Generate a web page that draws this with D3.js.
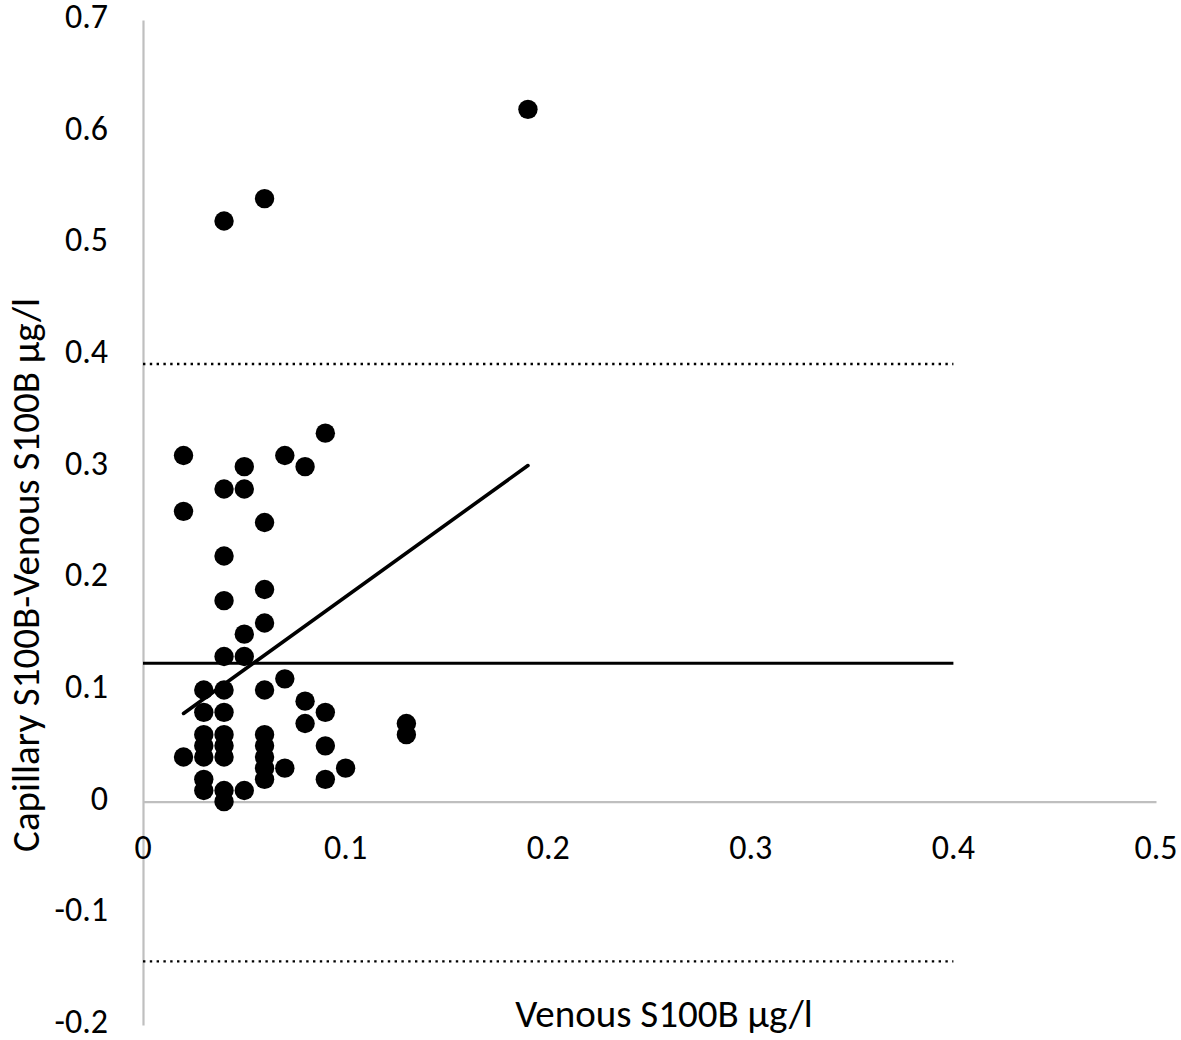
<!DOCTYPE html>
<html>
<head>
<meta charset="utf-8">
<script src="https://cdn.jsdelivr.net/npm/d3@7"></script>
<style>
  html, body { margin: 0; padding: 0; background: #fff; }
  svg text { font-family: Carlito, Calibri, Lato, "Open Sans", sans-serif; fill: #000; }
</style>
</head>
<body>
<svg id="chart" width="1181" height="1040"></svg>
<script>
// Data (Venous S100B vs Capillary - Venous difference)
const venous = [
  0.02, 0.02, 0.02,
  0.03, 0.03, 0.03, 0.03, 0.03, 0.03, 0.03,
  0.04, 0.04, 0.04, 0.04, 0.04, 0.04, 0.04, 0.04, 0.04, 0.04, 0.04, 0.04,
  0.05, 0.05, 0.05, 0.05, 0.05,
  0.06, 0.06, 0.06, 0.06, 0.06, 0.06, 0.06, 0.06, 0.06, 0.06,
  0.07, 0.07, 0.07,
  0.08, 0.08, 0.08,
  0.09, 0.09, 0.09, 0.09,
  0.10,
  0.13, 0.13,
  0.19
];
const difference = [
  0.31, 0.26, 0.04,
  0.10, 0.08, 0.06, 0.05, 0.04, 0.02, 0.01,
  0.52, 0.28, 0.22, 0.18, 0.13, 0.10, 0.08, 0.06, 0.05, 0.04, 0.01, 0.00,
  0.30, 0.28, 0.15, 0.13, 0.01,
  0.54, 0.25, 0.19, 0.16, 0.10, 0.06, 0.05, 0.04, 0.03, 0.02,
  0.31, 0.11, 0.03,
  0.30, 0.09, 0.07,
  0.33, 0.08, 0.05, 0.02,
  0.03,
  0.07, 0.06,
  0.62
];
const meanDiff = 0.124;
const upperLimit = 0.392;
const lowerLimit = -0.143;
const refLineX = [0, 0.4];
const trendX = [0.02, 0.19];
const trendY = [0.079, 0.301];
const xTicks = [0, 0.1, 0.2, 0.3, 0.4, 0.5];
const yTicks = [-0.2, -0.1, 0, 0.1, 0.2, 0.3, 0.4, 0.5, 0.6, 0.7];
const xTitle = "Venous S100B \u00b5g/l";
const yTitle = "Capillary S100B-Venous S100B \u00b5g/l";

const fmt = d => String(+d.toFixed(2));

const svg = d3.select("#chart");
const x = d3.scaleLinear().domain([0, 0.5]).range([143, 1156]);
const y = d3.scaleLinear().domain([-0.2, 0.7]).range([1025, 20]);

const axisColor = "#bfbfbf";

// X axis (at y = 0)
const xAxis = svg.append("g")
  .attr("transform", `translate(0,${y(0)})`)
  .call(d3.axisBottom(x).tickValues(xTicks).tickSize(0).tickFormat(fmt));
xAxis.select(".domain").attr("stroke", axisColor).attr("stroke-width", 2.2);
xAxis.selectAll("text").remove();

// Y axis (at x = 0)
const yAxis = svg.append("g")
  .attr("transform", `translate(${x(0)},0)`)
  .call(d3.axisLeft(y).tickValues(yTicks).tickSize(0).tickFormat(fmt));
yAxis.select(".domain").attr("stroke", axisColor).attr("stroke-width", 2.2);
yAxis.selectAll("text").remove();

// tick labels
svg.append("g").selectAll("text").data(xTicks).join("text")
  .attr("x", d => x(d))
  .attr("y", 859)
  .attr("text-anchor", "middle")
  .attr("font-size", 34)
  .text(fmt);

svg.append("g").selectAll("text").data(yTicks).join("text")
  .attr("x", 108)
  .attr("y", d => y(d) + 8)
  .attr("text-anchor", "end")
  .attr("font-size", 34)
  .text(fmt);

// axis titles
svg.append("text")
  .attr("x", 664).attr("y", 1027)
  .attr("text-anchor", "middle")
  .attr("font-size", 39)
  .text(xTitle);

svg.append("text")
  .attr("transform", `translate(39,${575}) rotate(-90)`)
  .attr("text-anchor", "middle")
  .attr("font-size", 39)
  .text(yTitle);

// limits of agreement (dotted)
[upperLimit, lowerLimit].forEach(v => {
  svg.append("line")
    .attr("x1", x(refLineX[0])).attr("x2", x(refLineX[1]))
    .attr("y1", y(v)).attr("y2", y(v))
    .attr("stroke", "#000").attr("stroke-width", 2.4)
    .attr("stroke-dasharray", "2.4,4.4");
});

// mean line
svg.append("line")
  .attr("x1", x(refLineX[0])).attr("x2", x(refLineX[1]))
  .attr("y1", y(meanDiff)).attr("y2", y(meanDiff))
  .attr("stroke", "#000").attr("stroke-width", 3);

// points
svg.append("g").selectAll("circle").data(venous.map((v, i) => [v, difference[i]])).join("circle")
  .attr("cx", d => x(d[0]))
  .attr("cy", d => y(d[1]))
  .attr("r", 9.7)
  .attr("fill", "#000");

// trend line
svg.append("line")
  .attr("x1", x(trendX[0])).attr("y1", y(trendY[0]))
  .attr("x2", x(trendX[1])).attr("y2", y(trendY[1]))
  .attr("stroke", "#000").attr("stroke-width", 3.6)
  .attr("stroke-linecap", "round");
</script>
</body>
</html>
